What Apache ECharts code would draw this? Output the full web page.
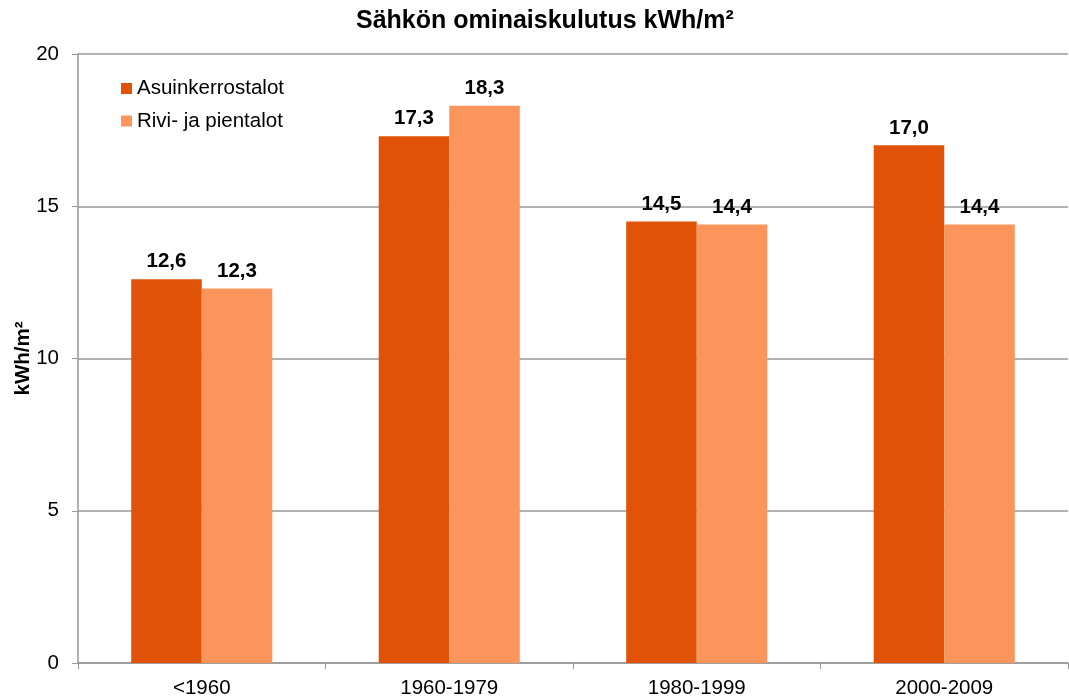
<!DOCTYPE html>
<html><head><meta charset="utf-8">
<script src="https://cdn.jsdelivr.net/npm/echarts@6/dist/echarts.min.js"></script>
<style>html,body{margin:0;padding:0;background:#fff}#c{width:1069px;height:699px}</style>
</head><body><div id="c"></div>
<script>
const categories = ['<1960', '1960-1979', '1980-1999', '2000-2009'];
const asuinkerrostalot = [12.6, 17.3, 14.5, 17.0];
const rivijapientalot = [12.3, 18.3, 14.4, 14.4];
const seriesNames = ['Asuinkerrostalot', 'Rivi- ja pientalot'];
const yTicks = {min: 0, max: 20, interval: 5};

const font = '"Liberation Sans", Arial, sans-serif';
const chart = echarts.init(document.getElementById('c'), null, {renderer: 'canvas'});
const labelFmt = p => p.value.toFixed(1).replace('.', ',');
chart.setOption({
  animation: false,
  textStyle: {fontFamily: font},
  title: {
    text: 'Sähkön ominaiskulutus kWh/m²', left: 356, top: 9, padding: 0,
    textStyle: {fontFamily: font, fontWeight: 'bold', fontSize: 25, color: '#000'}
  },
  legend: {
    orient: 'vertical', left: 121, top: 78, itemGap: 11.5, padding: 0,
    itemWidth: 11, itemHeight: 11, icon: 'rect',
    textStyle: {fontFamily: font, fontSize: 20.5, color: '#000'},
    data: seriesNames
  },
  grid: {left: 78, right: 1, top: 54, bottom: 36, containLabel: false, outerBoundsMode: 'none'},
  xAxis: {
    type: 'category', data: categories,
    axisLine: {lineStyle: {color: '#999', width: 1.5}},
    axisTick: {show: true, length: 6, lineStyle: {color: '#999'}},
    axisLabel: {fontFamily: font, fontSize: 20.5, color: '#000', margin: 15},
    splitLine: {show: false}
  },
  yAxis: {
    type: 'value', min: yTicks.min, max: yTicks.max, interval: yTicks.interval,
    name: 'kWh/m²', nameLocation: 'middle', nameGap: 44, nameRotate: 90, nameMoveOverlap: false,
    nameTextStyle: {fontFamily: font, fontWeight: 'bold', fontSize: 20.5, color: '#000'},
    axisLine: {show: true, lineStyle: {color: '#999', width: 1.5}},
    axisTick: {show: true, length: 6, lineStyle: {color: '#999'}},
    axisLabel: {fontFamily: font, fontSize: 20.5, color: '#000', margin: 19},
    splitLine: {show: true, lineStyle: {color: '#999', width: 1.5}}
  },
  series: [
    {name: seriesNames[0], type: 'bar', data: asuinkerrostalot, barGap: '0%', barCategoryGap: '43%',
     itemStyle: {color: '#E05206'},
     label: {show: true, position: 'top', distance: 7, formatter: labelFmt, fontFamily: font, fontWeight: 'bold', fontSize: 20.5, color: '#000'}},
    {name: seriesNames[1], type: 'bar', data: rivijapientalot, barGap: '0%', barCategoryGap: '43%',
     itemStyle: {color: '#FB955C'},
     label: {show: true, position: 'top', distance: 7, formatter: labelFmt, fontFamily: font, fontWeight: 'bold', fontSize: 20.5, color: '#000'}}
  ]
});
</script></body></html>
